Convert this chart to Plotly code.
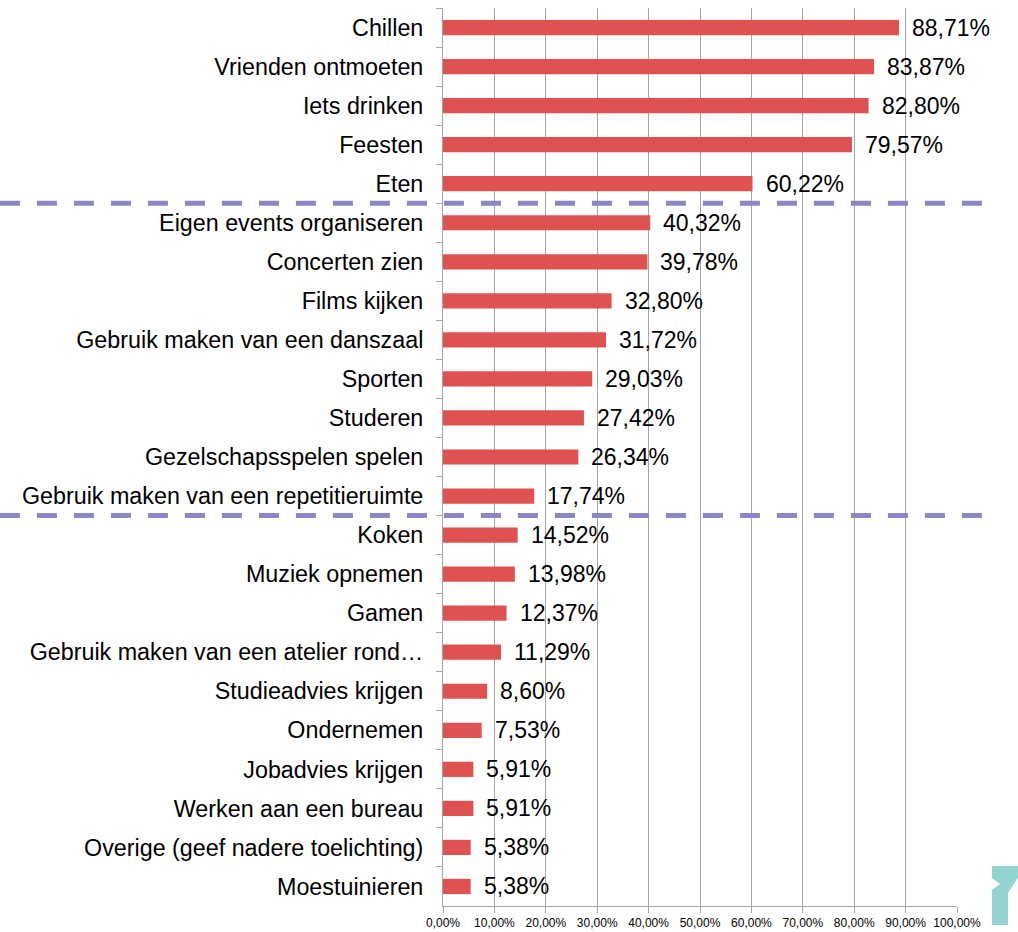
import plotly.graph_objects as go

activiteiten = [
    "Chillen", "Vrienden ontmoeten", "Iets drinken", "Feesten", "Eten",
    "Eigen events organiseren", "Concerten zien", "Films kijken",
    "Gebruik maken van een danszaal", "Sporten", "Studeren",
    "Gezelschapsspelen spelen", "Gebruik maken van een repetitieruimte",
    "Koken", "Muziek opnemen", "Gamen",
    "Gebruik maken van een atelier rond…", "Studieadvies krijgen",
    "Ondernemen", "Jobadvies krijgen", "Werken aan een bureau",
    "Overige (geef nadere toelichting)", "Moestuinieren",
]
percentages = [
    88.71, 83.87, 82.80, 79.57, 60.22,
    40.32, 39.78, 32.80, 31.72, 29.03, 27.42, 26.34, 17.74,
    14.52, 13.98, 12.37, 11.29, 8.60, 7.53, 5.91, 5.91, 5.38, 5.38,
]
x_ticks = [0, 10, 20, 30, 40, 50, 60, 70, 80, 90, 100]
x_ticktext = [f"{v:.2f}%".replace(".", ",") for v in x_ticks]
# group separators sit between these category indices
scheidingen = [4.5, 12.5]

FONT = '"Liberation Sans", Arial, sans-serif'
BAR_KLEUR = "#e05252"
LIJN_KLEUR = "#8d86c4"
GRID = "#a6a6a6"

fig = go.Figure()
fig.add_trace(go.Bar(
    x=percentages, y=activiteiten, orientation="h",
    marker=dict(color=BAR_KLEUR, line=dict(width=0)),
    width=0.39, hoverinfo="skip",
))

annotations = []
for act, p in zip(activiteiten, percentages):
    annotations.append(dict(
        x=p, y=act, xref="x", yref="y", xanchor="left", yanchor="middle",
        xshift=11, showarrow=False,
        text=f"{p:.2f}%".replace(".", ","),
        font=dict(family=FONT, size=23, color="black"),
    ))

shapes = []
for s in scheidingen:
    shapes.append(dict(
        type="line", xref="paper", yref="y",
        x0=-0.862, x1=1.054, y0=s, y1=s,
        line=dict(color=LIJN_KLEUR, width=5, dash="20px,17px"),
        layer="above",
    ))

# small teal logo in the bottom right corner (page pixel coordinates)
logo = [(992, 866), (1019, 866), (1019, 876), (1008, 893), (1008, 925),
        (992, 925), (992, 890), (1000, 884), (992, 878)]
pad = "M " + " L ".join(f"{(px - 443) / 514:.4f},{(906 - py) / 898:.4f}" for px, py in logo) + " Z"
shapes.append(dict(type="path", xref="paper", yref="paper", path=pad,
                   fillcolor="#93d4d0", line=dict(width=0)))

fig.update_layout(
    width=1018, height=932,
    margin=dict(l=443, r=61, t=8, b=26),
    paper_bgcolor="white", plot_bgcolor="white",
    showlegend=False,
    font=dict(family=FONT, color="black"),
    annotations=annotations,
    shapes=shapes,
    xaxis=dict(
        range=[0, 100], tickvals=x_ticks, ticktext=x_ticktext,
        tickfont=dict(size=12, family=FONT, color="black"),
        showgrid=True, gridcolor=GRID, gridwidth=1,
        showline=True, linecolor=GRID, linewidth=1,
        ticks="outside", ticklen=6, tickcolor=GRID,
        zeroline=False, fixedrange=True, automargin=False,
    ),
    yaxis=dict(
        range=[22.5, -0.5], type="category",
        tickfont=dict(size=23.3, family=FONT, color="black"),
        showline=True, linecolor=GRID, linewidth=1,
        ticks="outside", ticklen=6, tickcolor=GRID, tickson="boundaries",
        ticklabelstandoff=14,
        showgrid=False, zeroline=False, fixedrange=True, automargin=False,
    ),
)

# drop the default body margin so the figure fills the window exactly
fig.write_html(
    "out.html",
    config={"displayModeBar": False},
    post_script="document.body.style.margin='0';document.body.style.overflow='hidden';",
)
